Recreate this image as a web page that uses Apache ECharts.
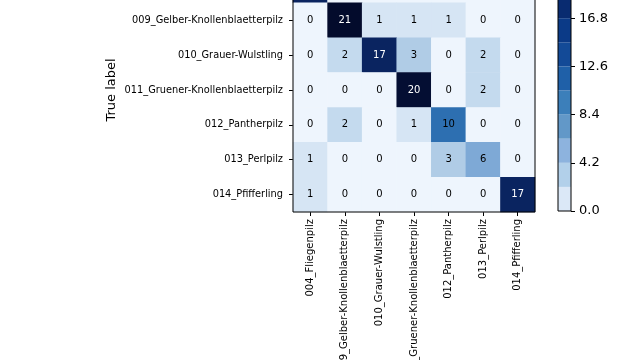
<!DOCTYPE html>
<html><head><meta charset="utf-8">
<script src="https://cdn.jsdelivr.net/npm/echarts@6/dist/echarts.min.js"></script>
<style>html,body{margin:0;padding:0;background:#fff;overflow:hidden;width:640px;height:360px}#c{position:absolute;left:0;top:-32px;width:640px;height:392px}</style>
</head><body><div id="c"></div>
<script>
const classes = ['004_Fliegenpilz','009_Gelber-Knollenblaetterpilz','010_Grauer-Wulstling','011_Gruener-Knollenblaetterpilz','012_Pantherpilz','013_Perlpilz','014_Pfifferling'];
const matrix = [
  [17,0,0,0,0,0,0],
  [0,21,1,1,1,0,0],
  [0,2,17,3,0,2,0],
  [0,0,0,20,0,2,0],
  [0,2,0,1,10,0,0],
  [1,0,0,0,3,6,0],
  [1,0,0,0,0,0,17]
];
const vmax = 21;
const cbBands = [2.1,2.1,2.1,2.1,2.1,2.1,2.1,2.1,2.1,2.1];
const cbColors = ['#dbe8f7','#b2d0ea','#8db3de','#6298c8','#3c7fba','#1f60a8','#134a97','#0b3a87','#092b70','#061d52'];
const cellColors = ['#eef5fd','#d6e5f4','#c4daee','#b0cce6','#9fc1e0','#8fb5db','#7ea9d6','#6a9acc','#5589c2','#417cba','#2d6fb1','#2663a8','#1f599f','#1a4f96','#15468c','#103c80','#0d3170','#0a2460','#081c50','#061543','#040e33','#030b2c'];

const thresh = vmax / 2;
const data = [];
matrix.forEach((row, i) => row.forEach((v, j) => {
  data.push({value: [j, i, v], label: {color: v > thresh ? '#ffffff' : '#000000'}});
}));

const font = 'DejaVu Sans';
const chart = echarts.init(document.getElementById('c'), null, {renderer: 'canvas'});
const cbSeries = cbBands.map((b, k) => ({
  type: 'bar', xAxisIndex: 1, yAxisIndex: 1, stack: 'cb', data: [b],
  barWidth: '100%', itemStyle: {color: cbColors[k]}, silent: true
}));
chart.setOption({
  animation: false,
  textStyle: {fontFamily: font},
  grid: [
    {left: 293, right: 105, top: 0, bottom: 148, show: true, borderColor: '#000', borderWidth: 1, backgroundColor: 'transparent', z: 10, containLabel: false, outerBoundsMode: 'none'},
    {left: 558, width: 13, top: 2, bottom: 149, show: true, borderColor: '#000', borderWidth: 1, z: 10, containLabel: false, outerBoundsMode: 'none'}
  ],
  xAxis: [
    {type: 'category', gridIndex: 0, data: classes,
     axisLine: {show: false}, splitLine: {show: false},
     axisTick: {show: true, alignWithLabel: true, length: 4, lineStyle: {color: '#000'}},
     axisLabel: {rotate: 90, fontSize: 10, color: '#000', margin: 7, fontFamily: font}},
    {type: 'category', gridIndex: 1, data: [''], show: false}
  ],
  yAxis: [
    {type: 'category', gridIndex: 0, data: classes, inverse: true,
     name: 'True label', nameLocation: 'middle', nameRotate: 90, nameGap: 175,
     nameTextStyle: {fontSize: 13, color: '#000', fontFamily: font},
     axisLine: {show: false}, splitLine: {show: false},
     axisTick: {show: true, alignWithLabel: true, length: 4, lineStyle: {color: '#000'}},
     axisLabel: {fontSize: 9.8, color: '#000', margin: 10, fontFamily: font}},
    {type: 'value', gridIndex: 1, position: 'right', min: 0, max: vmax, interval: 4.2,
     axisLine: {show: false}, splitLine: {show: false},
     axisTick: {show: true, length: 4, lineStyle: {color: '#000'}},
     axisLabel: {fontSize: 13, color: '#000', margin: 8, fontFamily: font,
       formatter: v => (Math.round(v * 10) / 10).toFixed(1)}}
  ],
  visualMap: {show: false, type: 'continuous', seriesIndex: 0, min: 0, max: vmax, dimension: 2,
    inRange: {color: cellColors}},
  series: [
    {type: 'heatmap', xAxisIndex: 0, yAxisIndex: 0, data: data,
     label: {show: true, fontSize: 10, fontFamily: font, formatter: p => String(p.value[2])},
     itemStyle: {borderWidth: 0}}
  ].concat(cbSeries)
});
</script></body></html>
